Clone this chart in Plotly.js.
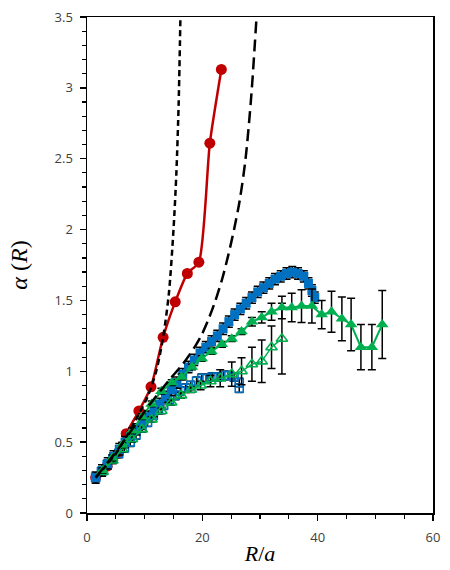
<!DOCTYPE html>
<html>
<head>
<meta charset="utf-8">
<script src="https://cdn.plot.ly/plotly-3.0.1.min.js"></script>
<style>
  html, body { margin: 0; padding: 0; background: #fff; }
  #chart { width: 450px; height: 570px; }
</style>
</head>
<body>
<div id="chart"></div>
<script>
// Red circles
const redX = [1.5, 3.5, 5.4, 6.8, 9.0, 11.1, 13.2, 15.3, 17.4, 19.4, 21.3, 23.3];
const redY = [0.25, 0.33, 0.42, 0.56, 0.72, 0.89, 1.24, 1.49, 1.69, 1.77, 2.61, 3.13];

// Short-dashed curve
const shortDashX = [1.5, 3, 5, 7, 9, 10.5, 12, 13.2, 14.2, 15.0, 15.5, 15.9, 16.2];
const shortDashY = [0.25, 0.32, 0.42, 0.55, 0.70, 0.82, 1.00, 1.24, 1.55, 2.00, 2.40, 2.90, 3.50];

// Long-dashed curve
const longDashX = [1.5, 5, 8, 10.4, 12.5, 14.5, 16.6, 18.5, 19.8, 21.0, 22.2, 23.5, 24.5, 25.5, 26.5, 27.5, 28.5, 29.4];
const longDashY = [0.25, 0.43, 0.60, 0.74, 0.85, 0.95, 1.05, 1.16, 1.25, 1.36, 1.49, 1.66, 1.82, 2.00, 2.21, 2.50, 2.95, 3.50];

// Blue filled squares
const blueX = [1.5, 2.6, 3.6, 4.6, 5.6, 6.6, 7.6, 8.6, 9.6, 10.6, 11.6, 12.6, 13.6, 14.6, 15.6, 16.6, 17.6, 18.6, 19.6, 20.6,
               21.6, 22.6, 23.6, 24.6, 25.6, 26.6, 27.6, 28.6, 29.6, 30.6, 31.6, 32.6, 33.6, 34.6, 35.6, 36.6, 37.6, 38.4, 39.0, 39.5];
const blueY = [0.25, 0.30, 0.35, 0.40, 0.45, 0.50, 0.54, 0.59, 0.63, 0.68, 0.72, 0.77, 0.82, 0.87, 0.92, 0.98, 1.03, 1.08, 1.13, 1.17,
               1.21, 1.25, 1.30, 1.35, 1.40, 1.44, 1.48, 1.52, 1.56, 1.59, 1.62, 1.65, 1.67, 1.69, 1.70, 1.69, 1.67, 1.62, 1.57, 1.52];
const blueErr = 0.04;

// Blue open squares
const blueOpenX = [1.5, 2.5, 3.5, 4.5, 5.5, 6.5, 7.5, 8.5, 9.5, 10.5, 11.5, 12.4, 13.3, 14.3, 15.3, 16.2, 17.1, 18.0, 19.0, 19.9,
                   20.8, 21.7, 22.7, 23.7, 24.6, 25.5, 26.4, 26.4];
const blueOpenY = [0.25, 0.29, 0.34, 0.38, 0.42, 0.46, 0.50, 0.55, 0.60, 0.64, 0.69, 0.73, 0.76, 0.80, 0.83, 0.86, 0.88, 0.90, 0.93, 0.95,
                   0.95, 0.96, 0.96, 0.97, 0.97, 0.96, 0.92, 0.88];
const blueOpenErr = 0.03;

// Green filled triangles
const greenX = [2.7, 4.4, 6.1, 7.8, 9.5, 11.2, 12.9, 14.7, 16.4, 18.2, 19.9, 21.6, 23.4, 25.1, 26.8, 28.6, 30.3, 32.0, 33.8,
                35.5, 37.2, 39.0, 40.7, 42.4, 44.2, 45.8, 47.5, 49.4, 51.2];
const greenY = [0.30, 0.39, 0.48, 0.58, 0.68, 0.77, 0.86, 0.92, 0.96, 1.03, 1.09, 1.14, 1.19, 1.23, 1.28, 1.35, 1.38, 1.42, 1.45,
                1.45, 1.46, 1.46, 1.40, 1.42, 1.37, 1.33, 1.17, 1.17, 1.33];
const greenErr = [0.02, 0.02, 0.02, 0.02, 0.02, 0.02, 0.02, 0.02, 0.02, 0.02, 0.02, 0.02, 0.02, 0.02, 0.02, 0.03, 0.04, 0.06, 0.08,
                  0.10, 0.115, 0.12, 0.10, 0.145, 0.155, 0.185, 0.16, 0.16, 0.24];

// Green open triangles
const greenOpenX = [2.7, 4.4, 6.1, 7.8, 9.5, 11.2, 12.9, 14.6, 16.3, 18.0, 19.7, 21.4, 23.1, 25.1, 26.8, 28.6, 30.3, 32.0, 33.8];
const greenOpenY = [0.29, 0.37, 0.45, 0.52, 0.59, 0.66, 0.72, 0.78, 0.83, 0.87, 0.90, 0.93, 0.95, 0.98, 1.00, 1.05, 1.07, 1.17, 1.23];
const greenOpenErr = [0.02, 0.02, 0.02, 0.02, 0.02, 0.02, 0.02, 0.02, 0.02, 0.02, 0.03, 0.04, 0.06, 0.085, 0.095, 0.12, 0.15, 0.15, 0.25];

const xTicks = [0, 20, 40, 60];
const yTicks = [0, 0.5, 1, 1.5, 2, 2.5, 3, 3.5];

const RED = '#C00000', BLUE = '#0070C0', GREEN = '#00B050';
const errStyle = (arr) => ({type: 'data', array: arr, visible: true, color: '#000', thickness: 1.5, width: 4});

const traces = [
  {x: redX, y: redY, type: 'scatter', mode: 'lines+markers',
   line: {color: RED, width: 2.5, shape: 'spline', smoothing: 0.6},
   marker: {symbol: 'circle', size: 11, color: RED}},
  {x: blueOpenX, y: blueOpenY, type: 'scatter', mode: 'markers',
   error_y: errStyle(blueOpenX.map(() => blueOpenErr)),
   marker: {symbol: 'square-open', size: 8, color: BLUE, line: {width: 1.6, color: BLUE}}},
  {x: blueX, y: blueY, type: 'scatter', mode: 'lines+markers',
   error_y: errStyle(blueX.map(() => blueErr)),
   line: {color: BLUE, width: 2},
   marker: {symbol: 'square', size: 9, color: BLUE}},
  {x: greenOpenX, y: greenOpenY, type: 'scatter', mode: 'lines+markers',
   error_y: errStyle(greenOpenErr),
   line: {color: GREEN, width: 1.5},
   marker: {symbol: 'triangle-up-open', size: 10, color: GREEN, line: {width: 1.6, color: GREEN}}},
  {x: greenX, y: greenY, type: 'scatter', mode: 'lines+markers',
   error_y: errStyle(greenErr),
   line: {color: GREEN, width: 2},
   marker: {symbol: 'triangle-up', size: 11, color: GREEN}},
  {x: shortDashX, y: shortDashY, type: 'scatter', mode: 'lines',
   line: {color: '#000', width: 2.5, dash: '6px,4px', shape: 'spline', smoothing: 0.8}},
  {x: longDashX, y: longDashY, type: 'scatter', mode: 'lines',
   line: {color: '#000', width: 2.5, dash: '12px,6px', shape: 'spline', smoothing: 0.8}}
];

const layout = {
  width: 450, height: 570,
  margin: {l: 87, r: 17, t: 17, b: 57},
  paper_bgcolor: '#fff', plot_bgcolor: '#fff',
  showlegend: false,
  font: {family: 'Open Sans, Liberation Sans, sans-serif', color: '#404040', size: 13},
  xaxis: {
    range: [0, 60], tickvals: xTicks, ticktext: xTicks.map(String),
    showgrid: false, zeroline: false,
    showline: true, linecolor: '#000', linewidth: 1.5, mirror: true,
    ticks: 'outside', ticklen: 6, tickwidth: 1.5, tickcolor: '#000',
    minor: {dtick: 5, ticks: 'outside', ticklen: 4, tickwidth: 1.2, tickcolor: '#000', showgrid: false},
    tickfont: {size: 13, color: '#404040'},
    ticklabelstandoff: 6,
    title: {text: '<i>R</i>/<i>a</i>', font: {family: 'Liberation Serif, serif', size: 22, color: '#000'}, standoff: 0}
  },
  yaxis: {
    range: [0, 3.5], tickvals: yTicks, ticktext: yTicks.map(String),
    showgrid: false, zeroline: false,
    showline: true, linecolor: '#000', linewidth: 1.5, mirror: true,
    ticks: 'outside', ticklen: 6, tickwidth: 1.5, tickcolor: '#000',
    minor: {dtick: 0.1, ticks: 'outside', ticklen: 4, tickwidth: 1.2, tickcolor: '#000', showgrid: false},
    tickfont: {size: 13, color: '#404040'},
    ticklabelstandoff: 4,
    title: {text: '<i>α</i> (<i>R</i>)', font: {family: 'Liberation Serif, serif', size: 24, color: '#000'}, standoff: 20}
  }
};

Plotly.newPlot('chart', traces, layout, {displayModeBar: false, staticPlot: true});
</script>
</body>
</html>
